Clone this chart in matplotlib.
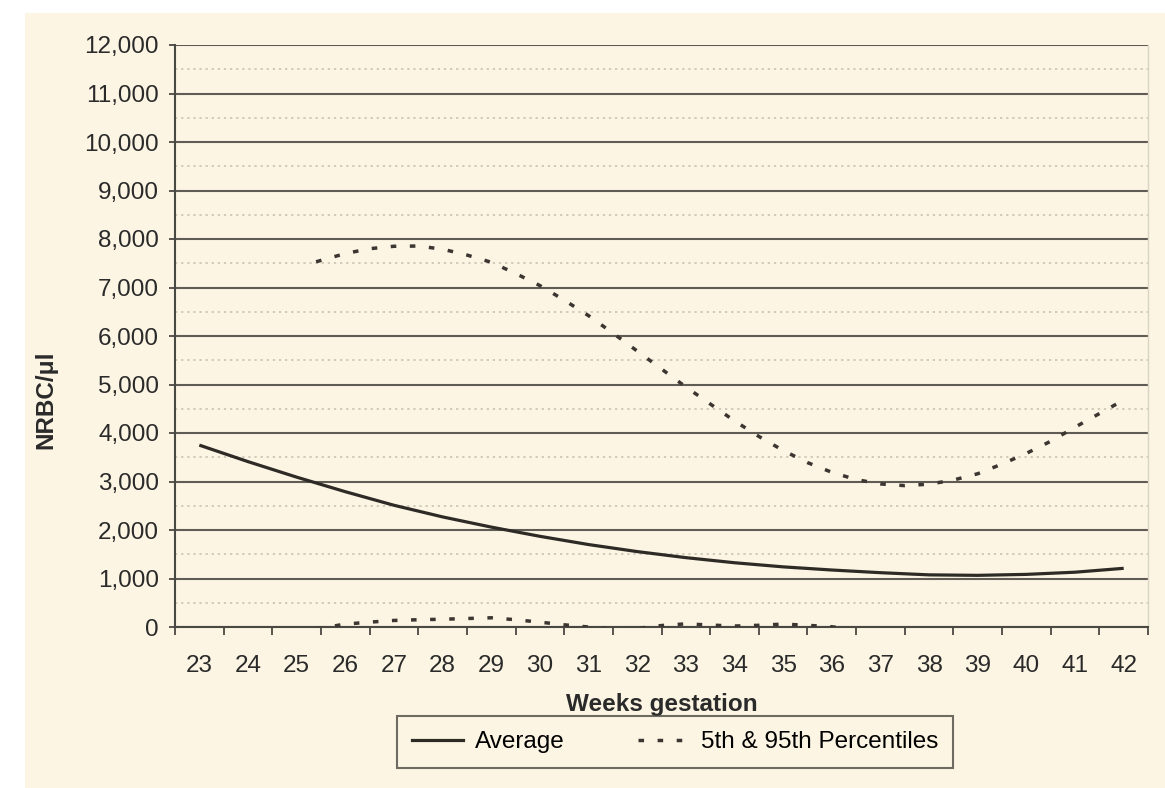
import numpy as np
import matplotlib.pyplot as plt
from matplotlib.patches import Rectangle
from matplotlib.lines import Line2D
from matplotlib.ticker import FuncFormatter, MultipleLocator

plt.rcParams['font.family'] = ['Liberation Sans', 'DejaVu Sans']

# weeks of gestation (categories)
weeks = list(range(23, 43))
average = [3750, 3410, 3090, 2790, 2510, 2270, 2060, 1870, 1700, 1555,
           1430, 1325, 1240, 1175, 1120, 1075, 1065, 1085, 1130, 1210]

# 95th percentile, read every half week
upper_weeks = [25.4, 26.0, 26.5, 27.0, 27.5, 28.0, 28.5, 29.0, 29.5, 30.0,
               30.5, 31.0, 31.5, 32.0, 32.5, 33.0, 33.5, 34.0, 34.5, 35.0,
               35.5, 36.0, 36.5, 37.0, 37.5, 38.0, 38.5, 39.0, 39.5, 40.0,
               40.5, 41.0, 41.5, 42.0]
upper = [7530, 7700, 7800, 7850, 7855, 7790, 7670, 7520, 7290, 7040,
         6740, 6420, 6060, 5690, 5320, 4950, 4600, 4250, 3930, 3640,
         3390, 3190, 3040, 2950, 2915, 2945, 3030, 3160, 3360, 3580,
         3830, 4120, 4400, 4680]

# 5th percentile (dips below zero, clipped by the axis)
lower_weeks = [25.4, 26.0, 26.5, 27.0, 27.5, 28.0, 28.5, 29.0, 29.5, 30.0,
               30.5, 31.0, 31.5, 32.0, 32.5, 33.0, 33.5, 34.0, 34.5, 35.0,
               35.5, 36.0, 36.5, 37.0, 38.0, 39.0, 40.0, 41.0, 42.0]
lower = [-40, 60, 100, 135, 150, 160, 175, 190, 150, 100,
         45, 0, -40, -30, 30, 65, 40, 20, 35, 60,
         35, 5, -60, -150, -300, -420, -500, -550, -600]

BEIGE = '#FCF5E3'
DARK = '#2E2B27'
DOTS = (0, (1.6, 3.9))
FS = 17.5

fig = plt.figure(figsize=(11.65, 7.88), dpi=100)
fig.patch.set_facecolor('white')
fig.patches.append(Rectangle((25 / 1165, 0), 1 - 25 / 1165, 1 - 13 / 788,
                             transform=fig.transFigure, facecolor=BEIGE,
                             edgecolor='none', zorder=-5))

ax = fig.add_axes([175 / 1165, 1 - 627 / 788, (1148 - 175) / 1165, (627 - 45) / 788])
ax.set_facecolor('none')

ax.plot(weeks, average, color=DARK, lw=2.3, solid_capstyle='butt', zorder=4)
ax.plot(upper_weeks, upper, color='#3B3631', lw=2.5, linestyle=DOTS, zorder=4)
ax.plot(lower_weeks, lower, color='#3B3631', lw=2.5, linestyle=DOTS, zorder=4)

ax.set_xlim(22.5, 42.5)
ax.set_ylim(0, 12000)

# y axis: solid major grid every 1000, dotted minor grid every 500
ax.yaxis.set_major_locator(MultipleLocator(1000))
ax.yaxis.set_minor_locator(MultipleLocator(500))
ax.yaxis.set_major_formatter(FuncFormatter(lambda v, p: f'{int(v):,}'))
ax.grid(True, which='major', axis='y', color='#5E5C54', lw=1.5, zorder=1)
ax.grid(True, which='minor', axis='y', color='#C4BFAF', lw=1.1,
        linestyle=(0, (1.5, 2.5)), zorder=1)
ax.set_axisbelow(True)
ax.tick_params(axis='y', which='major', direction='out', length=4.5, width=1.3,
               color='#4A4842', labelsize=FS, pad=7, labelcolor='#2A2A2A')
ax.tick_params(axis='y', which='minor', length=0)

# x axis: labels at week centres, tick marks between categories
ax.set_xticks(weeks)
ax.set_xticklabels([str(w) for w in weeks])
ax.set_xticks(np.arange(22.5, 43, 1), minor=True)
ax.tick_params(axis='x', which='major', length=0, labelsize=FS, pad=20,
               labelcolor='#2A2A2A')
ax.tick_params(axis='x', which='minor', direction='out', length=5.5, width=1.3,
               color='#4A4842')

ax.spines['top'].set_visible(False)
ax.spines['right'].set_color('#D8D4C6')
ax.spines['right'].set_linewidth(1)
ax.spines['left'].set_color('#4A4842')
ax.spines['left'].set_linewidth(1.5)
ax.spines['bottom'].set_color('#4A4842')
ax.spines['bottom'].set_linewidth(1.5)

ax.set_xlabel('Weeks gestation', fontsize=FS, fontweight='bold', labelpad=12,
              color='#2A2A2A')
ax.set_ylabel('NRBC/μl', fontsize=FS, fontweight='bold', color='#2A2A2A')
ax.yaxis.set_label_coords((57 - 175) / 973, (627 - 400) / 582)

handles = [Line2D([], [], color=DARK, lw=2.3),
           Line2D([], [], color='#3B3631', lw=2.5, linestyle=DOTS)]
leg = fig.legend(handles, ['Average', '5th & 95th Percentiles'],
                 loc='center', bbox_to_anchor=(675 / 1165, 1 - 742 / 788),
                 ncol=2, frameon=True, fancybox=False, fontsize=FS,
                 handlelength=2.1, columnspacing=3.0, borderpad=0.6,
                 handletextpad=0.5)
leg.get_frame().set_edgecolor('#4A4842')
leg.get_frame().set_linewidth(1.5)
leg.get_frame().set_facecolor(BEIGE)

fig.savefig('out.png', dpi=100)
